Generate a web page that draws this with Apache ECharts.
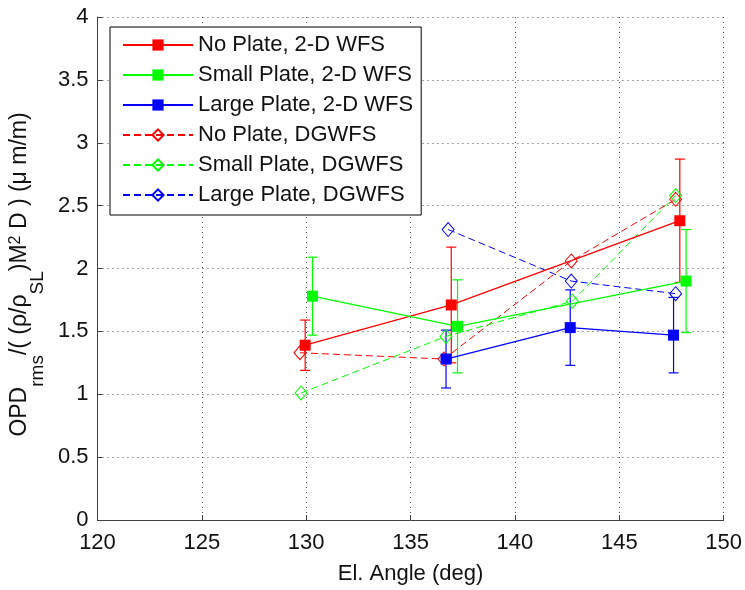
<!DOCTYPE html>
<html>
<head>
<meta charset="utf-8">
<script src="https://cdn.jsdelivr.net/npm/echarts@6/dist/echarts.min.js"></script>
<style>
  html, body { margin: 0; padding: 0; background: #fff; }
  #chart { width: 745px; height: 590px; }
</style>
</head>
<body>
<div id="chart"></div>
<script>
// Elevation angles (deg) and normalized OPD_rms values per configuration
const xTicks = [120, 125, 130, 135, 140, 145, 150];
const yTicks = [0, 0.5, 1, 1.5, 2, 2.5, 3, 3.5, 4];

// 2-D wavefront sensor, with symmetric error half-widths
const noPlate2D_x = [129.95, 136.95, 147.9];
const noPlate2D_y = [1.39, 1.71, 2.38];
const noPlate2D_err = [0.20, 0.46, 0.49];

const smallPlate2D_x = [130.3, 137.25, 148.2];
const smallPlate2D_y = [1.78, 1.54, 1.90];
const smallPlate2D_err = [0.31, 0.37, 0.41];

const largePlate2D_x = [136.7, 142.65, 147.6];
const largePlate2D_y = [1.28, 1.53, 1.47];
const largePlate2D_err = [0.23, 0.30, 0.30];

// DGWFS measurements
const noPlateDG_x = [129.7, 136.6, 142.7, 147.7];
const noPlateDG_y = [1.33, 1.28, 2.06, 2.55];

const smallPlateDG_x = [129.75, 136.7, 142.75, 147.7];
const smallPlateDG_y = [1.01, 1.46, 1.74, 2.58];

const largePlateDG_x = [136.8, 142.7, 147.7];
const largePlateDG_y = [2.31, 1.90, 1.80];

const RED = '#ff0000', GREEN = '#00ff00', BLUE = '#0000ff';
const FONT = "'Liberation Sans', Arial, sans-serif";

function pairs(xs, ys) { return xs.map((x, i) => [x, ys[i]]); }
function errRows(xs, ys, es) { return xs.map((x, i) => [x, ys[i] - es[i], ys[i] + es[i]]); }

function solidSeries(name, xs, ys, color) {
  return {
    name, type: 'line', data: pairs(xs, ys), z: 4,
    symbol: 'rect', symbolSize: 11,
    itemStyle: { color: color },
    lineStyle: { color: color, width: 1.3 },
    emphasis: { disabled: true }, animation: false
  };
}
function dashedSeries(name, xs, ys, color) {
  return {
    name, type: 'line', data: pairs(xs, ys), z: 3,
    symbol: 'diamond', symbolSize: [12, 14],
    itemStyle: { color: 'rgba(255,255,255,0)', borderColor: color, borderWidth: 1 },
    lineStyle: { color: color, width: 1, type: [7, 4] },
    emphasis: { disabled: true }, animation: false
  };
}
function errorSeries(xs, ys, es, color) {
  return {
    type: 'custom', z: 2, animation: false, silent: true,
    data: errRows(xs, ys, es),
    encode: { x: 0, y: [1, 2] },
    renderItem: function (params, api) {
      const x = api.value(0);
      const lo = api.coord([x, api.value(1)]);
      const hi = api.coord([x, api.value(2)]);
      const cap = 5;
      const st = { stroke: color, lineWidth: 1.2 };
      return {
        type: 'group',
        children: [
          { type: 'line', shape: { x1: lo[0], y1: lo[1], x2: hi[0], y2: hi[1] }, style: st },
          { type: 'line', shape: { x1: hi[0] - cap, y1: hi[1], x2: hi[0] + cap, y2: hi[1] }, style: st },
          { type: 'line', shape: { x1: lo[0] - cap, y1: lo[1], x2: lo[0] + cap, y2: lo[1] }, style: st }
        ]
      };
    }
  };
}

const chart = echarts.init(document.getElementById('chart'), null, { renderer: 'canvas' });

const axisLine = { show: true, lineStyle: { color: '#404040', width: 1 } };
const gridLine = { show: true, lineStyle: { color: '#505050', width: 1, type: [1, 4] } };

// Rich-text pieces of the y-axis title: every token shares one 39px line box,
// padding places normal text high, subscripts low and the superscript at the top.
const richY = {
  m: { fontSize: 23, lineHeight: 23, padding: [0, 0, 16, 0], color: '#111', fontFamily: FONT },
  e: { fontSize: 23, lineHeight: 23, padding: [0, 12, 16, 0], color: '#111', fontFamily: FONT },
  s: { fontSize: 19, lineHeight: 19, padding: [20, 0, 0, 0], color: '#111', fontFamily: FONT },
  p: { fontSize: 16, lineHeight: 16, padding: [0, 0, 23, 0], color: '#111', fontFamily: FONT }
};

chart.setOption({
  backgroundColor: '#ffffff',
  textStyle: { fontFamily: FONT },
  grid: { left: 96, right: 19, top: 17, bottom: 69 },
  xAxis: {
    type: 'value', min: xTicks[0], max: xTicks[xTicks.length - 1], interval: 5,
    axisLine: axisLine,
    axisTick: { show: true, inside: true, length: 5, lineStyle: { color: '#404040' } },
    axisLabel: { fontSize: 22, color: '#111', margin: 12, fontFamily: FONT },
    splitLine: gridLine,
    name: 'El. Angle (deg)', nameLocation: 'middle', nameGap: 43,
    nameTextStyle: { fontSize: 22, color: '#111', fontFamily: FONT, verticalAlign: 'top' }
  },
  yAxis: {
    type: 'value', min: yTicks[0], max: yTicks[yTicks.length - 1], interval: 0.5,
    axisLine: axisLine,
    axisTick: { show: true, inside: true, length: 5, lineStyle: { color: '#404040' } },
    axisLabel: { fontSize: 22, color: '#111', margin: 9, fontFamily: FONT },
    splitLine: gridLine,
    name: '{m|OPD}{s|rms}{m|/( (ρ/ρ}{s|SL}{m|)M}{p|2}{e| D ) (μ m/m)}',
    nameLocation: 'middle', nameRotate: 90, nameGap: 49,
    nameTextStyle: { color: '#111', fontFamily: FONT, rich: richY }
  },
  legend: {
    left: 110, top: 27, orient: 'vertical',
    backgroundColor: '#fff', borderColor: '#000', borderWidth: 1,
    padding: [7, 8, 9, 12],
    itemWidth: 70, itemHeight: 14, itemGap: 8,
    textStyle: { fontSize: 22, color: '#111', fontFamily: FONT, lineHeight: 22 },
    data: ['No Plate, 2-D WFS', 'Small Plate, 2-D WFS', 'Large Plate, 2-D WFS',
           'No Plate, DGWFS', 'Small Plate, DGWFS', 'Large Plate, DGWFS'],
    selectedMode: false
  },
  series: [
    errorSeries(noPlate2D_x, noPlate2D_y, noPlate2D_err, RED),
    errorSeries(smallPlate2D_x, smallPlate2D_y, smallPlate2D_err, GREEN),
    errorSeries(largePlate2D_x, largePlate2D_y, largePlate2D_err, BLUE),
    solidSeries('No Plate, 2-D WFS', noPlate2D_x, noPlate2D_y, RED),
    solidSeries('Small Plate, 2-D WFS', smallPlate2D_x, smallPlate2D_y, GREEN),
    solidSeries('Large Plate, 2-D WFS', largePlate2D_x, largePlate2D_y, BLUE),
    dashedSeries('No Plate, DGWFS', noPlateDG_x, noPlateDG_y, RED),
    dashedSeries('Small Plate, DGWFS', smallPlateDG_x, smallPlateDG_y, GREEN),
    dashedSeries('Large Plate, DGWFS', largePlateDG_x, largePlateDG_y, BLUE)
  ]
});
</script>
</body>
</html>
